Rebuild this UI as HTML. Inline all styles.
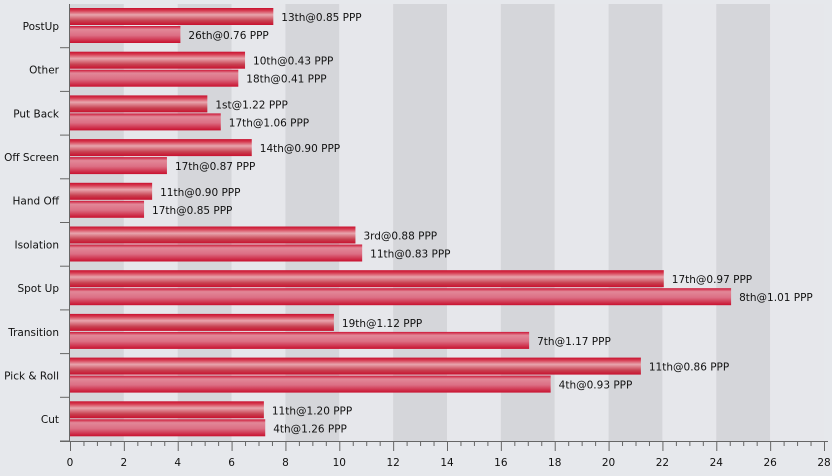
<!DOCTYPE html>
<html><head><meta charset="utf-8"><style>
body{margin:0;background:#e6e8ec;}
svg{display:block;font-family:"DejaVu Sans","Liberation Sans",sans-serif;}
</style></head><body>
<svg id="c" width="832" height="476">
<defs>
<linearGradient id="g1" x1="0" y1="0" x2="0" y2="1">
<stop offset="0" stop-color="#c8102e"/><stop offset="0.15" stop-color="#d63a50"/><stop offset="0.4" stop-color="#e8a5ad"/><stop offset="0.75" stop-color="#c84050"/><stop offset="1" stop-color="#c8102e"/></linearGradient>
<linearGradient id="g2" x1="0" y1="0" x2="0" y2="1">
<stop offset="0" stop-color="#cc1535"/><stop offset="0.2" stop-color="#e28898"/><stop offset="0.55" stop-color="#dc6f84"/><stop offset="1" stop-color="#c8102e"/></linearGradient>
</defs>
</svg>
<script>
const categories=["PostUp","Other","Put Back","Off Screen","Hand Off","Isolation","Spot Up","Transition","Pick & Roll","Cut"];
const series1=[7.55,6.5,5.1,6.75,3.05,10.6,22.05,9.8,21.2,7.2];
const series2=[4.1,6.25,5.6,3.6,2.75,10.85,24.55,17.05,17.85,7.25];
const labels1=["13th@0.85 PPP","10th@0.43 PPP","1st@1.22 PPP","14th@0.90 PPP","11th@0.90 PPP","3rd@0.88 PPP","17th@0.97 PPP","19th@1.12 PPP","11th@0.86 PPP","11th@1.20 PPP"];
const labels2=["26th@0.76 PPP","18th@0.41 PPP","17th@1.06 PPP","17th@0.87 PPP","17th@0.85 PPP","11th@0.83 PPP","8th@1.01 PPP","7th@1.17 PPP","4th@0.93 PPP","4th@1.26 PPP"];
const ticks=[0,2,4,6,8,10,12,14,16,18,20,22,24,26,28];
const svg=document.getElementById('c');const NS="http://www.w3.org/2000/svg";
const X0=70,X1=824,XMAX=28,Y0=4,Y1=441;
const x=v=>X0+v/XMAX*(X1-X0);
const rowH=(Y1-Y0)/categories.length;
const y=i=>Y0+i*rowH;
function el(t,a,p){const e=document.createElementNS(NS,t);for(const k in a)e.setAttribute(k,a[k]);(p||svg).appendChild(e);return e;}
for(let v=0;v<XMAX;v+=2){const r=el('rect',{x:x(v),y:Y0,width:x(2)-x(0),height:Y1-Y0,fill:(v/2)%2===0?'#d5d6da':'#e6e7eb'});

}
categories.forEach((c,i)=>{
 const top=y(i);
 const b1=el('rect',{x:X0,y:top+4,width:x(series1[i])-X0,height:17,fill:'url(#g1)'});
 
 
 const b2=el('rect',{x:X0,y:top+22,width:x(series2[i])-X0,height:17,fill:'url(#g2)'});
 
 
 const t1=el('text',{x:x(series1[i])+8,y:top+17,'font-size':10.5,fill:'#111'});t1.textContent=labels1[i];
 
 
 const t2=el('text',{x:x(series2[i])+8,y:top+35,'font-size':10.5,fill:'#111'});t2.textContent=labels2[i];
 
 
 const cl=el('text',{x:59,y:top+rowH/2+4,'font-size':10.5,'text-anchor':'end',fill:'#111'});cl.textContent=c;
 
 
 el('line',{x1:60,x2:X0,y1:top+rowH,y2:top+rowH,stroke:'#666'});
});
el('line',{x1:X0-0.5,x2:X0-0.5,y1:Y0,y2:Y1,stroke:'#666'});
el('line',{x1:60,x2:X1+4,y1:Y1+0.5,y2:Y1+0.5,stroke:'#666'});
for(let v=0;v<=XMAX;v+=0.5){const maj=v%2===0;el('line',{x1:x(v)+0.5,x2:x(v)+0.5,y1:Y1,y2:Y1+(maj?10:5),stroke:'#666'});}
ticks.forEach(t=>{const e=el('text',{x:x(t),y:466,'font-size':10.5,'text-anchor':'middle',fill:'#111'});e.textContent=t;
 
 });
</script>
</body></html>
